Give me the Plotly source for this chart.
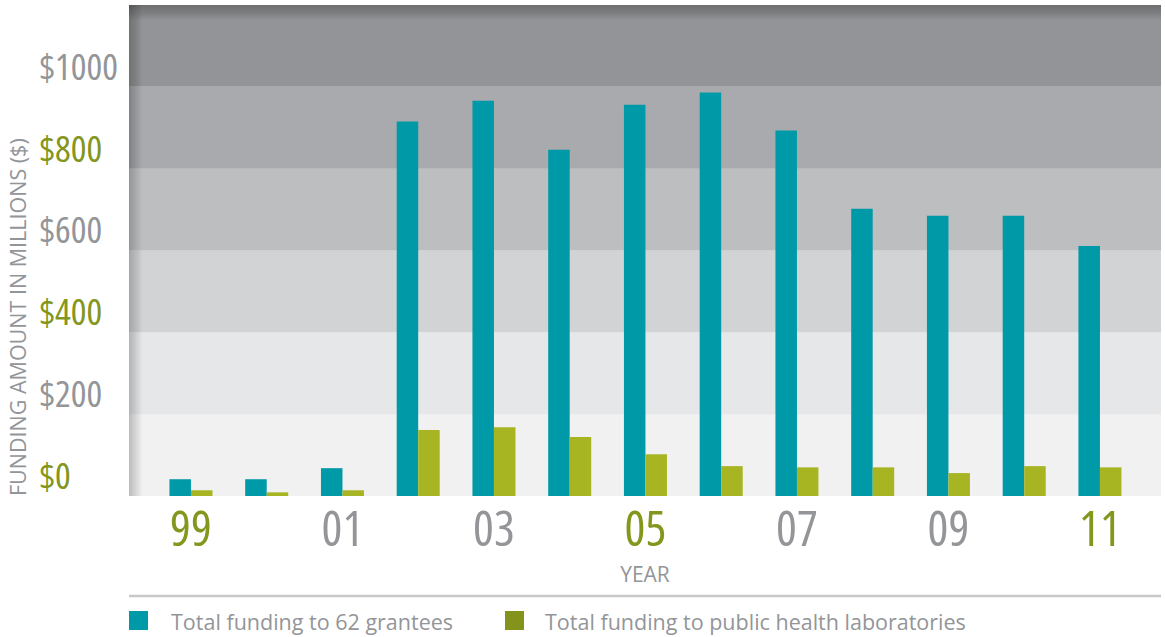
import plotly.graph_objects as go

# ---- data ----
years = ['99', '00', '01', '02', '03', '04', '05', '06', '07', '08', '09', '10', '11']
grantees = [41, 41, 68, 915, 966, 846, 956, 986, 893, 702, 685, 685, 611]
labs = [14, 9, 14, 161, 168, 144, 102, 73, 70, 70, 56, 73, 70]
ytick_vals = [0, 200, 400, 600, 800, 1000]
ytick_labels = ['$0', '$200', '$400', '$600', '$800', '$1000']
band_edges = [0, 200, 400, 600, 800, 1000, 1200]
band_colors = ['#f1f1f1', '#e6e7e8', '#d2d3d5', '#bdbec0', '#a9aaad', '#939497']
series_names = ['Total funding to 62 grantees', 'Total funding to public health laboratories']

TEAL = '#0099a8'
LIME = '#a8b523'
OLIVE = '#84931c'
GREEN_TXT = '#84961c'
GRAY_TXT = '#939598'
BODY = 'Open Sans, Liberation Sans, sans-serif'
XSTYLE = "font-stretch:75%;font-weight:500"
YSTYLE = "font-stretch:75%;font-weight:500"

xpos = list(range(len(years)))

xt_vals, xt_text = [], []
label_cols = [GREEN_TXT, GRAY_TXT, GRAY_TXT]
for k, i in enumerate(range(0, len(years), 2)):
    col = label_cols[k % 3]
    xt_vals.append(i)
    xt_text.append(f"<span style='color:{col};{XSTYLE}'>{years[i]}</span>")

yt_text = []
maxlen = max(len(s) for s in ytick_labels)
for j, s in enumerate(ytick_labels):
    col = GREEN_TXT if j % 2 == 0 else GRAY_TXT
    pad = '0' * (maxlen - len(s))
    t = f"<span style='color:{col};{YSTYLE}'>{s}</span>"
    if pad:
        t += f"<span style='color:rgba(0,0,0,0);{YSTYLE}'>{pad}</span>"
    yt_text.append(t)

fig = go.Figure()
fig.add_trace(go.Bar(x=xpos, y=grantees, name=series_names[0], marker=dict(color=TEAL, line=dict(width=0)),
                     showlegend=False))
fig.add_trace(go.Bar(x=xpos, y=labs, name=series_names[1], marker=dict(color=LIME, line=dict(width=0)),
                     showlegend=False))

PW, PH = 1032.0, 491.0
shapes = []
for lo, hi, c in zip(band_edges[:-1], band_edges[1:], band_colors):
    shapes.append(dict(type='rect', xref='paper', yref='y', x0=0, x1=1, y0=lo, y1=hi,
                       fillcolor=c, line=dict(width=0), layer='below'))
for k in range(1, 14):
    shapes.append(dict(type='rect', xref='paper', yref='paper', x0=0, x1=k / PW, y0=0, y1=1,
                       fillcolor='rgba(0,0,0,0.014)', line=dict(width=0), layer='below'))
for k in range(1, 16):
    shapes.append(dict(type='rect', xref='paper', yref='paper', x0=0, x1=1, y0=1 - k / PH, y1=1,
                       fillcolor='rgba(0,0,0,0.016)', line=dict(width=0), layer='below'))
shapes.append(dict(type='line', xref='paper', yref='paper', x0=0, x1=1,
                   y0=(496 - 596) / PH, y1=(496 - 596) / PH,
                   line=dict(color='#c8c8c8', width=2.5)))


def px_x(p):
    return (p - 129) / PW


def px_y(p):
    return (496 - p) / PH


annotations = []
legend_items = [(129, 148, 169, TEAL), (505, 524, 543, OLIVE)]
for (sx0, sx1, tx, col), name in zip(legend_items, series_names):
    shapes.append(dict(type='rect', xref='paper', yref='paper', x0=px_x(sx0), x1=px_x(sx1),
                       y0=px_y(630), y1=px_y(611), fillcolor=col, line=dict(width=0)))
    annotations.append(dict(text=name, xref='paper', yref='paper', x=px_x(tx), y=px_y(621),
                            xanchor='left', yanchor='middle', showarrow=False,
                            font=dict(family=BODY, size=21.5, color=GRAY_TXT)))

annotations.append(dict(text='FUNDING AMOUNT IN MILLIONS ($)', xref='paper', yref='paper',
                        x=px_x(17), y=px_y(498), xanchor='center', yanchor='bottom',
                        textangle=-90, showarrow=False,
                        font=dict(family=BODY, size=21.5, color=GRAY_TXT)))

fig.update_layout(
    width=1165, height=637,
    margin=dict(l=129, r=4, t=5, b=141, autoexpand=False),
    paper_bgcolor='white', plot_bgcolor='#f1f1f1',
    barmode='group', bargap=0.432, bargroupgap=0,
    shapes=shapes, annotations=annotations, showlegend=False,
    xaxis=dict(range=[-0.818, 12.806], tickmode='array', tickvals=xt_vals, ticktext=xt_text,
               showgrid=False, zeroline=False, showline=False, ticks='', automargin=False,
               tickfont=dict(family='Open Sans', size=49, color=GRAY_TXT),
               title=dict(text='YEAR', font=dict(family=BODY, size=21, color=GRAY_TXT), standoff=4),
               fixedrange=True),
    yaxis=dict(range=[0, 1200], tickmode='array', tickvals=ytick_vals, ticktext=yt_text,
               showgrid=False, zeroline=False, showline=False, ticks='', automargin=False,
               tickfont=dict(family='Open Sans', size=37, color=GRAY_TXT),
               ticklabelshift=-20, ticklabelstandoff=10, fixedrange=True),
)

fig.write_html('out.html', config={'displayModeBar': False},
               post_script="document.body.style.margin='0';document.body.style.overflow='hidden';")
